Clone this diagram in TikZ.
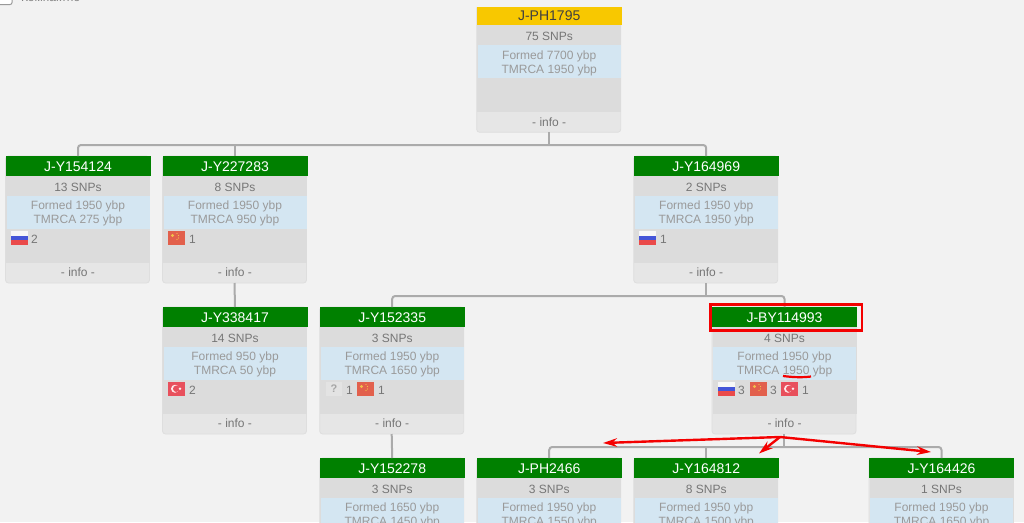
\documentclass[tikz,border=0pt]{standalone}
\usepackage{fontspec}
\setmainfont{Liberation Sans}
\usetikzlibrary{arrows.meta}
\definecolor{pagebg}{HTML}{F2F2F2}
\definecolor{cardgrey}{HTML}{DCDCDC}
\definecolor{infogrey}{HTML}{E6E6E6}
\definecolor{cardline}{HTML}{DEDEDE}
\definecolor{datebl}{HTML}{D4E6F2}
\definecolor{dategrey}{HTML}{9A9A9A}
\definecolor{txtgrey}{HTML}{767676}
\definecolor{hgreen}{HTML}{008000}
\definecolor{hgold}{HTML}{F8C800}
\definecolor{connc}{HTML}{ABABAB}
\definecolor{redm}{HTML}{F40000}
\definecolor{cnred}{HTML}{E2604C}
\definecolor{cnyel}{HTML}{F2C04A}
\definecolor{trred}{HTML}{E8505C}
\definecolor{rublue}{HTML}{4455D8}
\definecolor{rured}{HTML}{EA4A4A}
\newcommand{\lineb}[2]{\raisebox{#1}[8.6pt][0pt]{#2}}
\tikzset{
  x=1pt,y=-1pt,
  cardbox/.style={draw=cardline,line width=0.8pt,fill=infogrey,rounded corners=3pt,minimum width=144pt,minimum height=127pt,inner sep=0,outer sep=0,anchor=north west},
  strip/.style={inner sep=0,outer sep=0,anchor=north west,minimum width=143pt,align=center,text=txtgrey,font=\fontsize{12}{14.2}\selectfont},
  headgreen/.style={fill=hgreen,text=white},
  headgold/.style={fill=hgold,text=black!75},
  head/.style={inner sep=0,outer sep=0,anchor=north west,minimum width=145pt,minimum height=20pt,font=\fontsize{14}{16}\selectfont},
  conn/.style={draw=connc,line width=2pt,rounded corners=3pt},
  redmark/.style={draw=redm,line width=2.2pt},
  redarrow/.style={draw=redm,line width=2.4pt,-{Stealth[length=14pt,width=8.5pt]}},
  cnt/.style={inner sep=0,outer sep=0,anchor=west,text=txtgrey,font=\fontsize{12}{14}\selectfont},
}
\newcommand{\card}[8]{%
  \node[cardbox] (#1) at (#2,#3) {};
  \begin{scope}[shift={(#2,#3)}]
    \fill[cardgrey] (0.5,20) rectangle (144.5,106.5);
    \node[strip,minimum height=20pt] (#1-snp) at (1,20) {\lineb{-.7pt}{#5}};
    \node[strip,fill=datebl,text=dategrey,minimum height=33pt] (#1-date) at (1,40) {\lineb{0pt}{Formed #6 ybp}\\\lineb{0pt}{TMRCA #7 ybp}};
    \node[strip,minimum height=20pt] (#1-info) at (1,106.5) {\lineb{0pt}{- info -}};
    \node[head,#8] (#1-head) at (0,0) {\raisebox{0pt}[10pt][0pt]{#4}};
  \end{scope}}
\newcommand{\flagru}[2]{\begin{scope}[shift={(#1,#2)}]
  \fill[white!94!gray] (0,0) rectangle (17,4.5);
  \fill[rublue] (0,4.5) rectangle (17,9);
  \fill[rured] (0,9) rectangle (17,13.5);
\end{scope}}
\newcommand{\flagcn}[2]{\begin{scope}[shift={(#1,#2)}]
  \fill[cnred] (0,0) rectangle (17,13.5);
  \fill[cnyel] (4.5,4.5) circle (1.7);
  \fill[cnyel] (9,2.5) circle (.6) (10.5,4.5) circle (.6) (10.5,7) circle (.6) (9,8.5) circle (.6);
\end{scope}}
\newcommand{\flagtr}[2]{\begin{scope}[shift={(#1,#2)}]
  \fill[trred] (0,0) rectangle (17,13.5);
  \fill[white!92!red] (7,6.75) circle (4);
  \fill[trred] (8.2,6.75) circle (3.2);
  \fill[white!92!red] (12,6.75) circle (1.3);
\end{scope}}
\begin{document}
\begin{tikzpicture}
\useasboundingbox (0,0) rectangle (1024,522);
\clip (0,0) rectangle (1024,522);
\fill[pagebg] (0,0) rectangle (1024,522);
% cropped control at the top edge
\draw[draw=gray!80,line width=1pt,rounded corners=2pt,fill=white] (-3,-8) rectangle (12,4.5);
\node[cnt,text=gray] (compact) at (21,-2.5) {Компактно};
% cards
\card{root}{476.7}{5.3}{J-PH1795}{75 SNPs}{7700}{1950}{headgold}
\fill[pagebg] (470,0) rectangle (630,7);
\card{a}{5.5}{156}{J-Y154124}{13 SNPs}{1950}{275}{headgreen}
\card{b}{162.5}{156}{J-Y227283}{8 SNPs}{1950}{950}{headgreen}
\card{c}{633.7}{156}{J-Y164969}{2 SNPs}{1950}{1950}{headgreen}
\card{d}{162.5}{307}{J-Y338417}{14 SNPs}{950}{50}{headgreen}
\card{e}{319.7}{307}{J-Y152335}{3 SNPs}{1950}{1650}{headgreen}
\card{f}{712}{307}{J-BY114993}{4 SNPs}{1950}{1950}{headgreen}
\card{g}{319.7}{458}{J-Y152278}{3 SNPs}{1650}{1450}{headgreen}
\card{h}{476.7}{458}{J-PH2466}{3 SNPs}{1950}{1550}{headgreen}
\card{i}{633.7}{458}{J-Y164812}{8 SNPs}{1950}{1500}{headgreen}
\card{j}{869}{458}{J-Y164426}{1 SNPs}{1950}{1650}{headgreen}
% connectors
\coordinate (busA) at (0,145);
\coordinate (busB) at (0,296);
\coordinate (busC) at (0,447);
\draw[conn] (a-head.north) -- (a-head.north |- busA) -- (c-head.north |- busA) -- (c-head.north);
\draw[conn] (root.south) -- (root.south |- busA);
\draw[conn] (b-head.north) -- (b-head.north |- busA);
\draw[conn] (b.south) -- (d-head.north);
\draw[conn] (e-head.north) -- (e-head.north |- busB) -- (f-head.north |- busB) -- (f-head.north);
\draw[conn] (c.south) -- (c.south |- busB);
\draw[conn] (e.south) -- (g-head.north);
\draw[conn] (h-head.north) -- (h-head.north |- busC) -- (j-head.north |- busC) -- (j-head.north);
\draw[conn] (i-head.north) -- (i-head.north |- busC);
\draw[conn] (f.south) -- (f.south |- busC);
% flags and counts
\flagru{11}{231}\node[cnt] (cnta) at (31,239.5) {2};
\flagcn{168}{231}\node[cnt] (cntb) at (189,239.5) {1};
\flagru{639}{231}\node[cnt] (cntc) at (660,239.5) {1};
\flagtr{168}{382}\node[cnt] (cntd) at (189,390.5) {2};
\fill[gray!22] (326,382) rectangle (342,395.5);
\node[inner sep=0,text=gray!70,font=\fontsize{11}{12}\selectfont\bfseries] (qm) at (334,388.5) {?};
\node[cnt] (cnte) at (346,390.5) {1};
\flagcn{357}{382}\node[cnt] (cnte2) at (378,390.5) {1};
\flagru{718}{382}\node[cnt] (cntf) at (738,390.5) {3};
\flagcn{750}{382}\node[cnt] (cntf2) at (770,390.5) {3};
\flagtr{781}{382}\node[cnt] (cntf3) at (802,390.5) {1};
% red annotations
\draw[redmark] (710.5,304.5) rectangle (862,330.5);
\draw[redmark] (783,376) .. controls (795,377.5) and (803,377.5) .. (811,376.5);
\coordinate (fork) at (780,437);
\coordinate (tipL) at (603,443);
\coordinate (tipM) at (759,453.5);
\coordinate (tipR) at (931,452);
\draw[redarrow] (fork) -- (tipL);
\draw[redarrow] (fork) -- (tipM);
\draw[redarrow] (fork) -- (tipR);
\end{tikzpicture}
\end{document}
